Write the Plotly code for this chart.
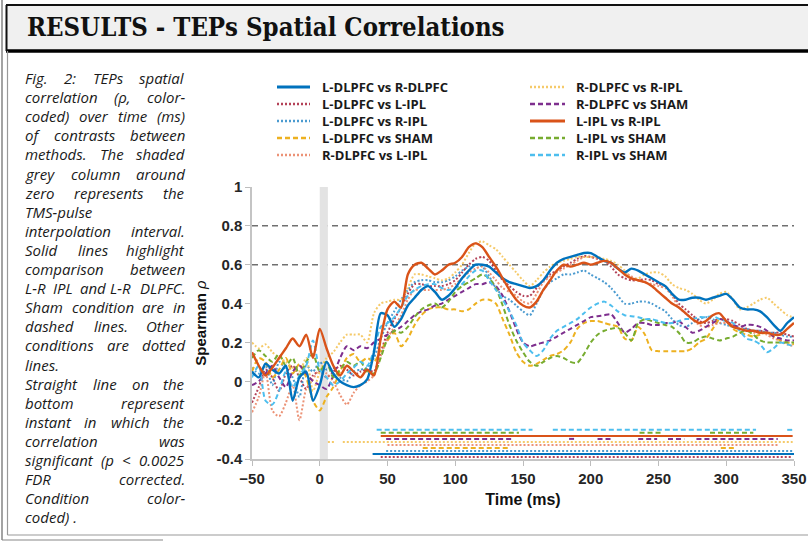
import plotly.graph_objects as go

# ---------------- data ----------------
time_ms = list(range(-50, 355, 5))

series_names = [
    "L-DLPFC vs R-DLPFC", "L-DLPFC vs L-IPL", "L-DLPFC vs R-IPL", "L-DLPFC vs SHAM",
    "R-DLPFC vs L-IPL", "R-DLPFC vs R-IPL", "R-DLPFC vs SHAM", "L-IPL vs R-IPL",
    "L-IPL vs SHAM", "R-IPL vs SHAM",
]

ldlpfc_rdlpfc = [0.05, 0.02, 0.09, 0.06, 0.04, 0.08, -0.10, 0.02, 0.05, -0.10, -0.02, 0.10, 0.04, 0.00, -0.02, -0.03, -0.02, 0.01, 0.15, 0.35,
                 0.34, 0.28, 0.32, 0.39, 0.43, 0.47, 0.49, 0.46, 0.42, 0.44, 0.48, 0.53, 0.57, 0.60, 0.60, 0.59, 0.56, 0.53, 0.51, 0.50,
                 0.49, 0.48, 0.49, 0.52, 0.57, 0.61, 0.63, 0.64, 0.65, 0.66, 0.66, 0.64, 0.62, 0.61, 0.58, 0.56, 0.58, 0.57, 0.55, 0.53,
                 0.51, 0.49, 0.45, 0.42, 0.42, 0.43, 0.43, 0.42, 0.43, 0.44, 0.45, 0.42, 0.38, 0.37, 0.37, 0.36, 0.33, 0.29, 0.26, 0.30, 0.33]
ldlpfc_lipl = [-0.11, -0.03, 0.06, 0.02, -0.05, 0.04, 0.08, 0.02, -0.04, 0.03, 0.05, 0.02, 0.05, 0.08, 0.06, 0.03, 0.05, 0.06, 0.05, 0.15,
               0.25, 0.32, 0.38, 0.45, 0.50, 0.50, 0.49, 0.49, 0.49, 0.50, 0.52, 0.56, 0.60, 0.63, 0.64, 0.62, 0.57, 0.52, 0.49, 0.46,
               0.44, 0.44, 0.48, 0.52, 0.55, 0.57, 0.59, 0.61, 0.63, 0.645, 0.64, 0.63, 0.62, 0.59, 0.55, 0.53, 0.52, 0.52, 0.525, 0.52,
               0.50, 0.49, 0.45, 0.40, 0.37, 0.34, 0.31, 0.30, 0.31, 0.32, 0.32, 0.31, 0.29, 0.27, 0.26, 0.26, 0.25, 0.25, 0.25, 0.24, 0.23]
ldlpfc_ripl = [0.07, 0.04, 0.08, -0.02, 0.10, 0.06, 0.02, -0.08, 0.08, 0.05, 0.10, 0.06, 0.07, 0.02, 0.00, 0.05, 0.06, 0.07, 0.12, 0.22,
               0.30, 0.36, 0.42, 0.47, 0.51, 0.52, 0.52, 0.51, 0.51, 0.52, 0.54, 0.57, 0.59, 0.60, 0.59, 0.54, 0.48, 0.44, 0.42, 0.39,
               0.36, 0.34, 0.40, 0.47, 0.51, 0.53, 0.55, 0.55, 0.56, 0.57, 0.55, 0.53, 0.51, 0.48, 0.44, 0.40, 0.40, 0.41, 0.41, 0.40,
               0.38, 0.36, 0.32, 0.29, 0.28, 0.30, 0.32, 0.33, 0.32, 0.30, 0.29, 0.28, 0.27, 0.27, 0.26, 0.26, 0.25, 0.25, 0.24, 0.23, 0.23]
ldlpfc_sham = [0.05, 0.12, 0.10, 0.02, 0.06, 0.12, 0.04, 0.09, 0.02, -0.10, -0.15, -0.08, -0.03, 0.05, 0.12, 0.14, 0.10, 0.12, 0.10, 0.16,
               0.21, 0.25, 0.18, 0.22, 0.29, 0.34, 0.37, 0.38, 0.38, 0.37, 0.37, 0.36, 0.37, 0.40, 0.42, 0.42, 0.40, 0.32, 0.24, 0.15,
               0.10, 0.08, 0.09, 0.11, 0.13, 0.14, 0.16, 0.20, 0.27, 0.30, 0.31, 0.31, 0.30, 0.29, 0.28, 0.22, 0.21, 0.28, 0.24, 0.16,
               0.155, 0.155, 0.155, 0.155, 0.155, 0.17, 0.20, 0.22, 0.27, 0.32, 0.31, 0.27, 0.25, 0.24, 0.23, 0.24, 0.25, 0.23, 0.21, 0.20, 0.19]
rdlpfc_lipl = [-0.16, -0.08, 0.05, -0.15, -0.18, -0.11, -0.02, -0.20, -0.04, 0.01, 0.06, 0.04, 0.00, -0.07, -0.12, -0.06, -0.02, 0.00, 0.03, 0.13,
               0.22, 0.28, 0.34, 0.42, 0.47, 0.47, 0.47, 0.47, 0.47, 0.48, 0.50, 0.53, 0.56, 0.58, 0.59, 0.56, 0.52, 0.48, 0.46, 0.44,
               0.41, 0.40, 0.45, 0.51, 0.54, 0.56, 0.58, 0.60, 0.62, 0.64, 0.64, 0.63, 0.62, 0.60, 0.58, 0.56, 0.54, 0.52, 0.51, 0.50,
               0.49, 0.48, 0.44, 0.38, 0.35, 0.32, 0.29, 0.28, 0.29, 0.30, 0.30, 0.29, 0.27, 0.26, 0.25, 0.25, 0.24, 0.22, 0.21, 0.19, 0.18]
rdlpfc_ripl = [0.20, 0.17, 0.19, 0.15, 0.12, 0.10, 0.07, 0.05, 0.12, -0.05, 0.05, 0.12, 0.15, 0.20, 0.24, 0.24, 0.24, 0.20, 0.35, 0.40,
               0.41, 0.42, 0.42, 0.48, 0.55, 0.55, 0.54, 0.53, 0.52, 0.53, 0.56, 0.60, 0.66, 0.71, 0.72, 0.70, 0.68, 0.64, 0.60, 0.56,
               0.52, 0.49, 0.52, 0.56, 0.59, 0.61, 0.62, 0.63, 0.64, 0.64, 0.64, 0.64, 0.63, 0.62, 0.60, 0.57, 0.53, 0.53, 0.55, 0.56,
               0.56, 0.54, 0.50, 0.48, 0.47, 0.45, 0.42, 0.40, 0.42, 0.45, 0.46, 0.42, 0.37, 0.38, 0.40, 0.42, 0.43, 0.40, 0.37, 0.34, 0.33]
rdlpfc_sham = [-0.02, 0.00, 0.04, 0.08, 0.02, -0.03, 0.05, 0.08, 0.04, 0.00, -0.02, -0.04, 0.03, 0.12, 0.18, 0.16, 0.18, 0.17, 0.20, 0.22,
               0.24, 0.26, 0.28, 0.31, 0.34, 0.36, 0.37, 0.39, 0.40, 0.42, 0.44, 0.46, 0.48, 0.50, 0.50, 0.51, 0.49, 0.44, 0.36, 0.27,
               0.20, 0.18, 0.19, 0.20, 0.21, 0.23, 0.25, 0.27, 0.29, 0.31, 0.33, 0.335, 0.34, 0.345, 0.30, 0.25, 0.27, 0.30, 0.30, 0.29,
               0.29, 0.30, 0.30, 0.31, 0.28, 0.25, 0.26, 0.28, 0.30, 0.32, 0.31, 0.29, 0.28, 0.29, 0.29, 0.28, 0.26, 0.23, 0.22, 0.21, 0.21]
lipl_ripl = [0.15, 0.08, 0.03, 0.07, 0.12, 0.17, 0.22, 0.18, 0.24, 0.12, 0.27, 0.17, 0.08, 0.03, 0.08, 0.05, 0.02, 0.06, 0.03, 0.22,
             0.37, 0.41, 0.38, 0.55, 0.60, 0.61, 0.58, 0.55, 0.57, 0.60, 0.61, 0.64, 0.69, 0.71, 0.69, 0.64, 0.59, 0.53, 0.47, 0.42,
             0.39, 0.38, 0.41, 0.47, 0.52, 0.57, 0.60, 0.59, 0.60, 0.61, 0.60, 0.61, 0.62, 0.61, 0.58, 0.55, 0.53, 0.52, 0.51, 0.49,
             0.46, 0.43, 0.40, 0.38, 0.35, 0.32, 0.30, 0.31, 0.34, 0.35, 0.31, 0.28, 0.27, 0.26, 0.26, 0.25, 0.25, 0.24, 0.24, 0.27, 0.30]
lipl_sham = [0.12, 0.16, 0.13, 0.10, 0.14, 0.08, 0.12, 0.03, 0.10, 0.14, 0.05, 0.10, 0.02, 0.06, 0.10, 0.08, 0.10, 0.05, 0.04, 0.12,
             0.22, 0.26, 0.25, 0.28, 0.33, 0.37, 0.39, 0.40, 0.38, 0.41, 0.46, 0.49, 0.51, 0.53, 0.55, 0.53, 0.48, 0.39, 0.29, 0.21,
             0.15, 0.10, 0.08, 0.10, 0.12, 0.13, 0.12, 0.10, 0.095, 0.14, 0.20, 0.24, 0.26, 0.27, 0.275, 0.25, 0.21, 0.30, 0.32, 0.31,
             0.30, 0.29, 0.28, 0.25, 0.20, 0.20, 0.22, 0.23, 0.22, 0.21, 0.22, 0.23, 0.25, 0.26, 0.24, 0.21, 0.20, 0.20, 0.20, 0.20, 0.20]
ripl_sham = [0.02, 0.08, -0.10, -0.12, -0.05, 0.05, -0.03, 0.03, 0.08, 0.21, 0.06, 0.02, -0.02, 0.00, 0.04, 0.07, 0.10, 0.08, 0.16, 0.28,
             0.30, 0.33, 0.38, 0.44, 0.47, 0.49, 0.50, 0.50, 0.48, 0.47, 0.48, 0.50, 0.54, 0.57, 0.57, 0.52, 0.47, 0.42, 0.36, 0.29,
             0.20, 0.16, 0.13, 0.16, 0.22, 0.26, 0.28, 0.30, 0.32, 0.35, 0.38, 0.40, 0.41, 0.39, 0.36, 0.34, 0.335, 0.33, 0.32, 0.32,
             0.31, 0.30, 0.30, 0.31, 0.32, 0.32, 0.33, 0.33, 0.335, 0.32, 0.31, 0.30, 0.26, 0.22, 0.21, 0.19, 0.15, 0.17, 0.20, 0.19, 0.18]

series_values = [ldlpfc_rdlpfc, ldlpfc_lipl, ldlpfc_ripl, ldlpfc_sham, rdlpfc_lipl,
                 rdlpfc_ripl, rdlpfc_sham, lipl_ripl, lipl_sham, ripl_sham]

# significant intervals (ms), rows listed from top to bottom
sig_order = ["R-IPL vs SHAM", "L-IPL vs SHAM", "L-IPL vs R-IPL", "R-DLPFC vs SHAM", "R-DLPFC vs R-IPL",
             "R-DLPFC vs L-IPL", "L-DLPFC vs SHAM", "L-DLPFC vs R-IPL", "L-DLPFC vs R-DLPFC", "L-DLPFC vs L-IPL"]
sig_intervals = [
    [(42, 157), (172, 322), (345, 350)],
    [(45, 147), (236, 253), (288, 320)],
    [(45, 349)],
    [(49, 143), (184, 189), (205, 216), (235, 249), (257, 269), (278, 338)],
    [(6, 11), (17, 349)],
    [(50, 338)],
    [(76, 141), (296, 307)],
    [(49, 349)],
    [(39, 350)],
    [(45, 349)],
]

x_ticks = [-50, 0, 50, 100, 150, 200, 250, 300, 350]
y_ticks = [-0.4, -0.2, 0, 0.2, 0.4, 0.6, 0.8, 1]
y_tick_text = ["-0.4", "-0.2", "0", "0.2", "0.4", "0.6", "0.8", "1"]
ref_levels = [0.6, 0.8]
pulse_interval = (0, 6)

title_text = "RESULTS - TEPs Spatial Correlations"
caption_lines = [
    ("Fig. 2: TEPs spatial", True), ("correlation (ρ, color-", True), ("coded) over time (ms)", True),
    ("of contrasts between", True), ("methods. The shaded", True), ("grey column around", True),
    ("zero represents the", True), ("TMS-pulse", False), ("interpolation interval.", True),
    ("Solid lines highlight", True), ("comparison between", True), ("L-R IPL and L-R DLPFC.", True),
    ("Sham condition are in", True), ("dashed lines. Other", True), ("conditions are dotted", True),
    ("lines.", False), ("Straight line on the", True), ("bottom represent", True),
    ("instant in which the", True), ("correlation was", True), ("significant (p < 0.0025", True),
    ("FDR corrected.", True), ("Condition color-", True), ("coded) .", False),
]

# ---------------- styles ----------------
DOT = "2px,2px"
DASH = "5px,3px"
styles = {
    "L-DLPFC vs R-DLPFC": dict(color="#0072BD", dash="solid", width=2.4, opacity=1.0),
    "L-DLPFC vs L-IPL": dict(color="#A2142F", dash=DOT, width=2.0, opacity=0.8),
    "L-DLPFC vs R-IPL": dict(color="#0072BD", dash=DOT, width=2.0, opacity=0.7),
    "L-DLPFC vs SHAM": dict(color="#EDB120", dash=DASH, width=2.0, opacity=1.0),
    "R-DLPFC vs L-IPL": dict(color="#E9805F", dash=DOT, width=2.0, opacity=0.85),
    "R-DLPFC vs R-IPL": dict(color="#F5C55A", dash=DOT, width=2.0, opacity=0.9),
    "R-DLPFC vs SHAM": dict(color="#7E2F8E", dash=DASH, width=2.0, opacity=1.0),
    "L-IPL vs R-IPL": dict(color="#D95319", dash="solid", width=2.4, opacity=1.0),
    "L-IPL vs SHAM": dict(color="#77AC30", dash=DASH, width=2.0, opacity=1.0),
    "R-IPL vs SHAM": dict(color="#4DBEEE", dash=DASH, width=2.0, opacity=1.0),
}

W, H = 808, 542
ML, MR, MT, MB = 252, 14, 187, 83
PW, PH = W - ML - MR, H - MT - MB


def fx(px):
    return (px - ML) / PW


def fy(py):
    return (H - MB - py) / PH


fig = go.Figure()

# draw non-solid first, solid on top
order = [i for i, n in enumerate(series_names) if styles[n]["dash"] != "solid"] + \
        [i for i, n in enumerate(series_names) if styles[n]["dash"] == "solid"]
for i in order:
    n = series_names[i]
    s = styles[n]
    fig.add_trace(go.Scatter(
        x=time_ms, y=series_values[i], mode="lines", name=n, showlegend=False,
        opacity=s["opacity"], line=dict(color=s["color"], dash=s["dash"], width=s["width"],
                                        shape="spline", smoothing=0.7),
        hoverinfo="skip"))

# significance lines
for k, (n, ivs) in enumerate(zip(sig_order, sig_intervals)):
    lvl = -0.25 - 0.0155 * k
    xs, ys = [], []
    for a, b in ivs:
        xs += [a, b, None]
        ys += [lvl, lvl, None]
    s = styles[n]
    fig.add_trace(go.Scatter(x=xs, y=ys, mode="lines", showlegend=False, opacity=s["opacity"],
                             line=dict(color=s["color"], dash=s["dash"], width=2.0), hoverinfo="skip"))

shapes = []
# grey pulse column
shapes.append(dict(type="rect", xref="x", yref="y", x0=pulse_interval[0], x1=pulse_interval[1],
                   y0=-0.4, y1=1, fillcolor="#e3e3e3", line=dict(width=0), layer="below"))
for lv in ref_levels:
    shapes.append(dict(type="line", xref="paper", yref="y", x0=0, x1=1, y0=lv, y1=lv,
                       line=dict(color="#707070", width=1.5, dash="6px,4px"), layer="below"))

# frame
shapes.append(dict(type="rect", xref="paper", yref="paper", x0=fx(6), x1=fx(812), y0=fy(51), y1=fy(5),
                   fillcolor="#f0f0f0", line=dict(width=0), layer="below"))
shapes.append(dict(type="line", xref="paper", yref="paper", x0=fx(6), x1=fx(812), y0=fy(5), y1=fy(5),
                   line=dict(color="#111", width=2)))
shapes.append(dict(type="line", xref="paper", yref="paper", x0=fx(6), x1=fx(812), y0=fy(51), y1=fy(51),
                   line=dict(color="#000", width=3.5)))
shapes.append(dict(type="line", xref="paper", yref="paper", x0=fx(6.5), x1=fx(6.5), y0=fy(51), y1=fy(5),
                   line=dict(color="#111", width=2)))
shapes.append(dict(type="line", xref="paper", yref="paper", x0=fx(2), x1=fx(2), y0=fy(540), y1=fy(0),
                   line=dict(color="#666", width=1.2)))
shapes.append(dict(type="line", xref="paper", yref="paper", x0=fx(2), x1=fx(163), y0=fy(540), y1=fy(540),
                   line=dict(color="#888", width=1.2)))
shapes.append(dict(type="line", xref="paper", yref="paper", x0=fx(7.5), x1=fx(7.5), y0=fy(535), y1=fy(51),
                   line=dict(color="#999", width=1.2)))
shapes.append(dict(type="line", xref="paper", yref="paper", x0=fx(7.5), x1=fx(812), y0=fy(535), y1=fy(535),
                   line=dict(color="#999", width=1.2)))

annotations = []
# custom legend
leg_cols = [(277, 310, 322), (530, 565, 576)]
for i, n in enumerate(series_names):
    col, row = divmod(i, 5)
    x0, x1, xt = leg_cols[col]
    yy = 87 + 17 * row
    s = styles[n]
    shapes.append(dict(type="line", xref="paper", yref="paper", x0=fx(x0), x1=fx(x1), y0=fy(yy), y1=fy(yy),
                       opacity=s["opacity"], line=dict(color=s["color"], dash=s["dash"], width=s["width"] + 0.4)))
    annotations.append(dict(text=n, x=fx(xt), y=fy(yy), xref="paper", yref="paper", xanchor="left",
                            yanchor="middle", showarrow=False, borderpad=0, borderwidth=0,
                            font=dict(family="Open Sans", size=13, color="#1a1a1a", weight="bold")))

# title
annotations.append(dict(text=title_text, x=fx(27), y=fy(27), xref="paper", yref="paper", xanchor="left",
                        yanchor="middle", showarrow=False, borderpad=0, borderwidth=0,
                        font=dict(family="DejaVu Serif Condensed, DejaVu Serif", size=25.5, color="#111",
                                  weight="bold")))

# caption (justified by words)
CW = {' ': 0.26, 'a': 0.53, 'b': 0.56, 'c': 0.46, 'd': 0.56, 'e': 0.52, 'f': 0.32, 'g': 0.50, 'h': 0.56,
      'i': 0.25, 'j': 0.25, 'k': 0.49, 'l': 0.25, 'm': 0.86, 'n': 0.56, 'o': 0.55, 'p': 0.56, 'q': 0.56,
      'r': 0.38, 's': 0.43, 't': 0.33, 'u': 0.56, 'v': 0.47, 'w': 0.72, 'x': 0.47, 'y': 0.47, 'z': 0.42,
      'M': 0.87, 'I': 0.28, 'T': 0.53, 'F': 0.52, 'L': 0.50, '.': 0.26, ',': 0.24, ':': 0.26, '(': 0.29,
      ')': 0.29, '-': 0.32, '<': 0.57, 'ρ': 0.56}
CAP_SIZE = 15


def word_w(w):
    tot = 0
    for ch in w:
        if ch in CW:
            tot += CW[ch]
        elif ch.isdigit():
            tot += 0.55
        elif ch.isupper():
            tot += 0.62
        else:
            tot += 0.5
    return tot * CAP_SIZE


cap_font = dict(family="Open Sans", size=CAP_SIZE, color="#1a1a1a", style="italic")
LEFT, RIGHT, Y0, DY = 25, 185, 78, 19.1
for li, (line, just) in enumerate(caption_lines):
    yy = Y0 + DY * li
    words = line.split(" ")
    if not just or len(words) == 1:
        annotations.append(dict(text=line, x=fx(LEFT), y=fy(yy), xref="paper", yref="paper", xanchor="left",
                                yanchor="middle", showarrow=False, borderpad=0, borderwidth=0, font=cap_font))
        continue
    ws = [word_w(w) for w in words]
    gap = (RIGHT - LEFT - sum(ws)) / (len(words) - 1)
    pos = LEFT
    for wi, w in enumerate(words):
        if wi == len(words) - 1:
            annotations.append(dict(text=w, x=fx(RIGHT), y=fy(yy), xref="paper", yref="paper", xanchor="right",
                                    yanchor="middle", showarrow=False, borderpad=0, borderwidth=0, font=cap_font))
        else:
            annotations.append(dict(text=w, x=fx(pos), y=fy(yy), xref="paper", yref="paper", xanchor="left",
                                    yanchor="middle", showarrow=False, borderpad=0, borderwidth=0, font=cap_font))
        pos += ws[wi] + gap

axis_font = dict(family="Liberation Sans, Arial", size=15, color="#262626", weight="bold")
fig.update_layout(
    width=W, height=H, margin=dict(l=ML, r=MR, t=MT, b=MB, autoexpand=False),
    paper_bgcolor="white", plot_bgcolor="white", showlegend=False,
    shapes=shapes, annotations=annotations,
    xaxis=dict(range=[-50, 350], tickvals=x_ticks, ticks="outside", ticklen=5, tickcolor="#bdbdbd",
               showline=True, linecolor="#c4c4c4", linewidth=1.5, showgrid=False, zeroline=False,
               tickfont=axis_font, title=dict(text="<b>Time (ms)</b>", standoff=8,
                                              font=dict(family="Liberation Sans, Arial", size=16, color="#111"))),
    yaxis=dict(range=[-0.4, 1], tickvals=y_ticks, ticktext=y_tick_text, ticks="outside", ticklen=5,
               tickcolor="#bdbdbd", showline=True, linecolor="#c4c4c4", linewidth=1.5, showgrid=False,
               zeroline=False, tickfont=axis_font,
               title=dict(text="<b>Spearman</b> <i>ρ</i>", standoff=6,
                          font=dict(family="Liberation Sans, Arial", size=15, color="#111"))),
)

fig.write_html("out.html", config={"displayModeBar": False},
               post_script="document.body.style.margin='0';document.body.style.padding='0';")
